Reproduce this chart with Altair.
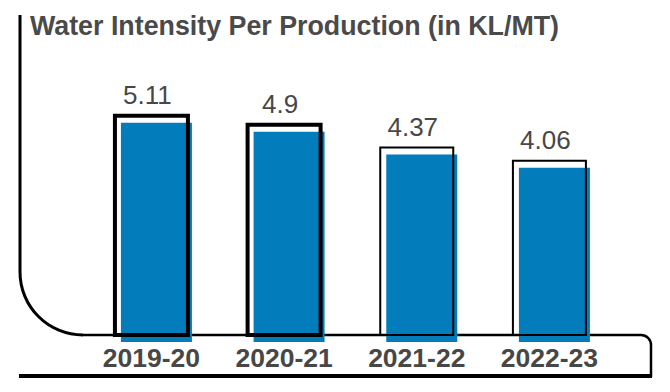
import math
import altair as alt
import pandas as pd

# ---- data ----
years = ["2019-20", "2020-21", "2021-22", "2022-23"]
values = [5.11, 4.9, 4.37, 4.06]
labels = ["5.11", "4.9", "4.37", "4.06"]
thick_outline_years = ["2019-20", "2020-21"]

title_text = "Water Intensity Per Production (in KL/MT)"

df = pd.DataFrame({"year": years, "value": values, "label": labels})
one = pd.DataFrame({"k": [0]})

W, H = 632, 320
YMAX = 7.459
TEXT = "#474747"
BLUE = "#027cba"
FONT = "Liberation Sans"

x_enc = alt.X(
    "year:N",
    sort=years,
    scale=alt.Scale(paddingInner=0.5, paddingOuter=0.632, align=0.586),
    axis=alt.Axis(
        title=None, labelAngle=0, domain=False, ticks=False, tickSize=0,
        labelFont=FONT, labelFontSize=26.5, labelFontWeight="bold",
        labelColor=TEXT, labelPadding=31, labelBaseline="alphabetic",
    ),
)
y_enc = alt.Y("value:Q", scale=alt.Scale(domain=[0, YMAX], nice=False), axis=None)

base = alt.Chart(df)

blue = base.mark_bar(color=BLUE, size=71, xOffset=5, yOffset=7, y2Offset=-2).encode(
    x=x_enc, y=y_enc
)

outline = base.mark_bar(fill="transparent", stroke="black", size=73).encode(
    x=x_enc,
    y=y_enc,
    strokeWidth=alt.condition(
        alt.FieldOneOfPredicate(field="year", oneOf=thick_outline_years),
        alt.value(4),
        alt.value(2),
    ),
)

txt = base.mark_text(
    font=FONT, fontSize=26, color=TEXT, baseline="alphabetic", dy=-12, dx=-4
).encode(x=x_enc, y=y_enc, text="label:N")

# ---- decorative frame (pixel positions in the plot area) ----
deco = alt.Chart(one)
left_v = deco.mark_rule(color="black", strokeWidth=3).encode(
    x=alt.value(0), y=alt.value(0), y2=alt.value(257)
)
left_arc = deco.mark_arc(
    color="black", radius=64.5, radius2=61.5, theta=math.pi, theta2=1.5 * math.pi
).encode(x=alt.value(63), y=alt.value(257))
bottom_h = deco.mark_rule(color="black", strokeWidth=2.5).encode(
    x=alt.value(63), x2=alt.value(621), y=alt.value(320)
)
right_arc = deco.mark_arc(
    color="black", radius=11.25, radius2=8.75, theta=0, theta2=0.5 * math.pi
).encode(x=alt.value(621), y=alt.value(330))
right_v = deco.mark_rule(color="black", strokeWidth=2.5).encode(
    x=alt.value(631), y=alt.value(330), y2=alt.value(362)
)
thick = deco.mark_rule(color="black", strokeWidth=4).encode(
    x=alt.value(-1), x2=alt.value(632), y=alt.value(361)
)

chart = (
    alt.layer(left_v, left_arc, bottom_h, right_arc, right_v, thick, blue, outline, txt)
    .properties(
        width=W,
        height=H,
        title=alt.TitleParams(
            text=title_text, anchor="start", font=FONT, fontSize=26.8,
            fontWeight="bold", color="#4a4a4a", dx=13, offset=-48,
            baseline="alphabetic",
        ),
        autosize=alt.AutoSizeParams(type="none"),
        padding={"left": 12, "top": 7, "right": 2, "bottom": 48},
    )
    .configure(background="white", view=alt.ViewConfig(strokeWidth=0))
)

chart.save("out.html", embed_options={"renderer": "svg", "actions": False})
